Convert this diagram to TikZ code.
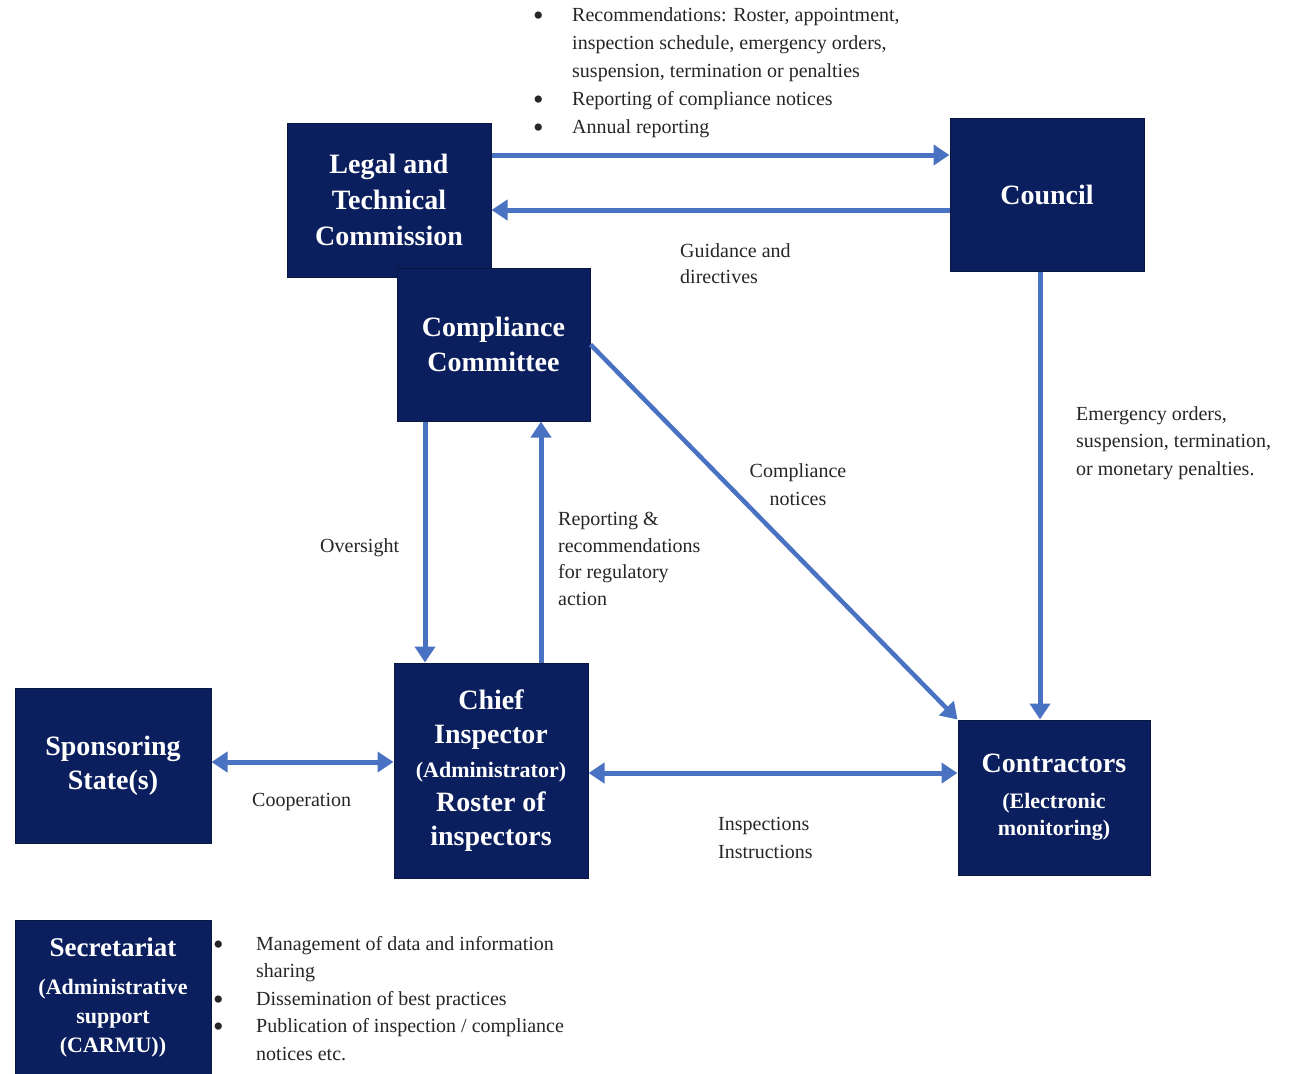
\documentclass[tikz,border=0pt]{standalone}
\usepackage{fontspec}
\setmainfont{Liberation Serif}
\usetikzlibrary{arrows.meta}
\definecolor{navy}{HTML}{0B1F5E}
\definecolor{arrblue}{HTML}{4A72C2}
\newcommand{\bigbul}{\raisebox{-4pt}{\fontsize{30}{28}\selectfont\textbullet}}
\begin{document}
\begin{tikzpicture}[x=1pt,y=-1pt,
  box/.style={fill=navy, draw=navy!70!black, line width=1pt, inner sep=0pt, text=white, align=center,
    font=\bfseries\fontsize{28}{36}\selectfont},
  arr/.style={draw=arrblue, line width=5pt, -{Triangle[length=16pt,width=20pt]}},
  darr/.style={draw=arrblue, line width=5pt, {Triangle[length=16pt,width=20pt]}-{Triangle[length=16pt,width=20pt]}},
  lbl/.style={inner sep=0pt, anchor=north west, align=left, text=black!85, font=\fontsize{20}{27}\selectfont}]
\useasboundingbox (0,0) rectangle (1294,1074);
\fill[white] (0,0) rectangle (1294,1074);

% boxes
\node[box, minimum width=204pt, minimum height=154pt] (ltc) at (389,200) {Legal and\\Technical\\Commission};
\node[box, minimum width=194pt, minimum height=153pt] (council) at (1047,194.5) {Council};
\node[box, minimum width=193pt, minimum height=153pt, font=\bfseries\fontsize{28}{35}\selectfont] (cc) at (493.5,344.5) {Compliance\\Committee};
\node[box, minimum width=194pt, minimum height=215pt, font=\bfseries\fontsize{28}{34}\selectfont] (ci) at (491,770.5)
  {Chief\\Inspector\\{\fontsize{22}{30}\selectfont(Administrator)}\\Roster of\\inspectors};
\node[box, minimum width=196pt, minimum height=155pt, font=\bfseries\fontsize{28}{34}\selectfont] (ss) at (113,765.5) {Sponsoring\\State(s)};
\node[box, minimum width=192pt, minimum height=155pt, font=\bfseries\fontsize{28}{27}\selectfont] (con) at (1054,797.5)
  {Contractors\\[9pt]{\fontsize{22}{27}\selectfont(Electronic}\\{\fontsize{22}{27}\selectfont monitoring)}};
\node[box, minimum width=196pt, minimum height=154pt, font=\bfseries\fontsize{27}{29}\selectfont] (sec) at (113,997)
  {Secretariat\\[9pt]{\fontsize{22}{29}\selectfont(Administrative}\\{\fontsize{22}{29}\selectfont support}\\{\fontsize{22}{29}\selectfont(CARMU))}};

% connectors
\draw[arr] ([yshift=45pt]ltc.east) coordinate (a1) -- (a1 -| council.west);
\draw[arr] ([yshift=-15.5pt]council.west) coordinate (a2) -- (a2 -| ltc.east);
\draw[arr] ([xshift=-7pt]council.south) coordinate (a3) -- (a3 |- con.north);
\draw[arr, line width=4.5pt] (cc.east) -- (con.north west);
\draw[arr] ([xshift=-68.5pt]cc.south) coordinate (a4) -- (a4 |- ci.north);
\draw[arr] ([xshift=50pt]ci.north) coordinate (a5) -- (a5 |- cc.south);
\draw[darr] ([yshift=3.5pt]ss.east) coordinate (a6) -- (a6 -| ci.west);
\draw[darr] ([yshift=-2.5pt]ci.east) coordinate (a7) -- (a7 -| con.west);

% labels
\node[lbl, font=\fontsize{20}{28}\selectfont] (toplist) at (533,2) {\begin{tabular}{@{}p{39pt}@{}l@{}}
\bigbul & Recommendations: Roster, appointment,\\
 & inspection schedule, emergency orders,\\
 & suspension, termination or penalties\\
\bigbul & Reporting of compliance notices\\
\bigbul & Annual reporting
\end{tabular}};
\node[lbl, font=\fontsize{20}{26}\selectfont] (guid) at (680,243) {Guidance and\\directives};
\node[lbl, font=\fontsize{20}{27.5}\selectfont] (emerg) at (1076,406) {Emergency orders,\\suspension, termination,\\or monetary penalties.};
\node[lbl, anchor=north, align=center, font=\fontsize{20}{28}\selectfont] (cnot) at (798,463) {Compliance\\notices};
\node[lbl] (overs) at (320,538) {Oversight};
\node[lbl, font=\fontsize{20}{26.7}\selectfont] (rep) at (558,512) {Reporting \&\\recommendations\\for regulatory\\action};
\node[lbl] (coop) at (252,793) {Cooperation};
\node[lbl, font=\fontsize{20}{28}\selectfont] (insp) at (718,817) {Inspections\\Instructions};
\node[lbl, font=\fontsize{20}{27.5}\selectfont] (botlist) at (213,931) {\begin{tabular}{@{}p{43pt}@{}l@{}}
\bigbul & Management of data and information\\
 & sharing\\
\bigbul & Dissemination of best practices\\
\bigbul & Publication of inspection / compliance\\
 & notices etc.
\end{tabular}};
\end{tikzpicture}
\end{document}
